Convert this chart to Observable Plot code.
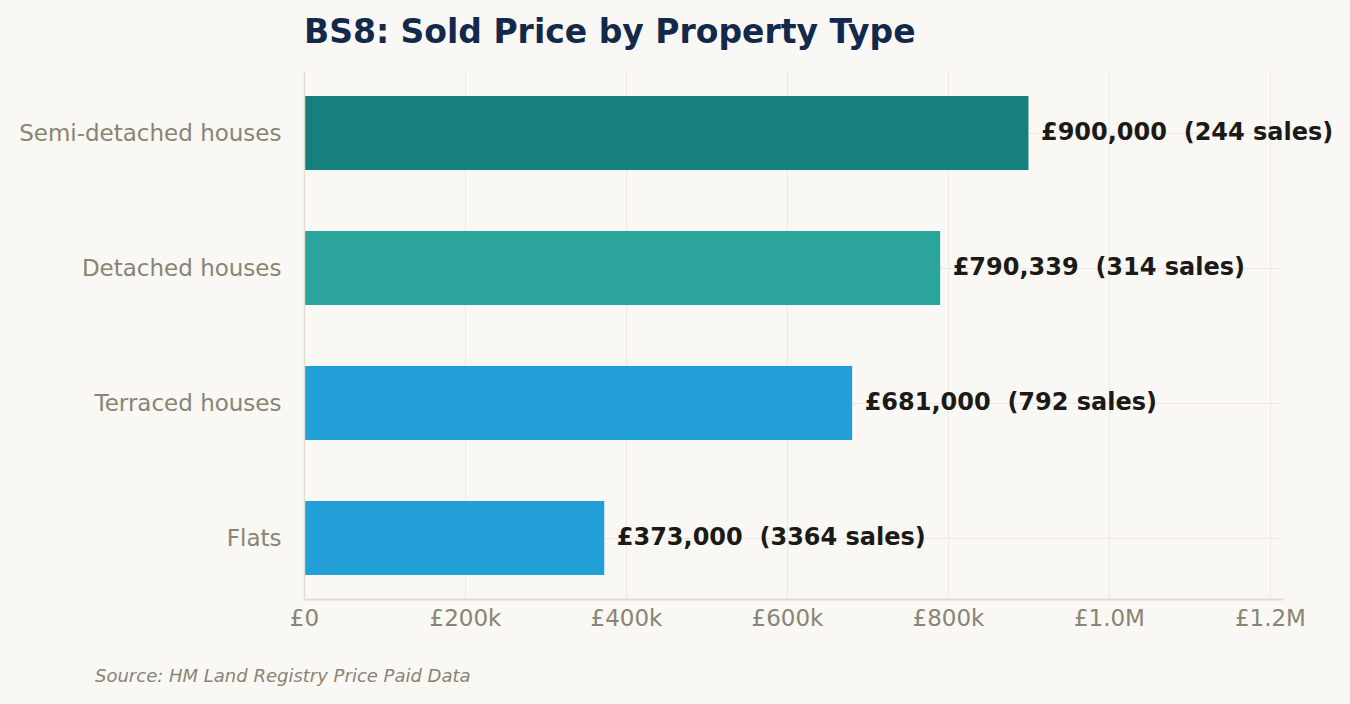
<!DOCTYPE html>
<html>
<head>
<meta charset="utf-8">
<script src="https://cdn.jsdelivr.net/npm/d3@7"></script>
<script src="https://cdn.jsdelivr.net/npm/@observablehq/plot@0.6"></script>
<style>
  html, body { margin: 0; padding: 0; background: #f9f8f4; }
  body { width: 1350px; height: 704px; position: relative; overflow: hidden; font-family: "DejaVu Sans", sans-serif; }
  #title { position: absolute; left: 304px; top: 13px; font-size: 33px; font-weight: bold; color: #13294b; line-height: 38px; white-space: nowrap; }
  #chart { position: absolute; left: 0; top: 60px; }
  #source { position: absolute; left: 95px; top: 665px; font-size: 18px; font-style: italic; color: #8a8472; line-height: 22px; white-space: nowrap; }
</style>
</head>
<body>
<div id="title">BS8: Sold Price by Property Type</div>
<div id="chart"></div>
<div id="source">Source: HM Land Registry Price Paid Data</div>
<script>
const categories = ["Semi-detached houses", "Detached houses", "Terraced houses", "Flats"];
const prices = [900000, 790339, 681000, 373000];
const sales = [244, 314, 792, 3364];
const barColors = ["#17807e", "#2ca59d", "#239fd8", "#239fd8"];
const xTicks = [0, 200000, 400000, 600000, 800000, 1000000, 1200000];
const xTickLabels = ["£0", "£200k", "£400k", "£600k", "£800k", "£1.0M", "£1.2M"];
const xMax = 1215000;

const data = categories.map((c, i) => ({cat: c, price: prices[i], sales: sales[i], color: barColors[i]}));
const fmt = d3.format(",");

const chart = Plot.plot({
  width: 1350,
  height: 580,
  marginTop: 12,
  marginBottom: 41,
  marginLeft: 304,
  marginRight: 68,
  style: {background: "transparent", fontFamily: "DejaVu Sans, sans-serif", fontSize: "23px", color: "#8a8472", overflow: "visible"},
  x: {domain: [0, xMax], ticks: xTicks, tickFormat: (d) => xTickLabels[xTicks.indexOf(d)], label: null},
  y: {domain: categories, paddingInner: 0.45, paddingOuter: 0.17, label: null},
  color: {type: "identity"},
  marks: [
    Plot.gridX(xTicks, {stroke: "#ece9e1", strokeOpacity: 1, strokeWidth: 1}),
    Plot.gridY(categories, {stroke: "#ece9e1", strokeOpacity: 1, strokeWidth: 1}),
    Plot.barX(data, {x: "price", y: "cat", fill: "color"}),
    Plot.ruleX([0], {stroke: "#e2ddd0", strokeWidth: 1.5}),
    Plot.frame({anchor: "bottom", stroke: "#e2ddd0", strokeWidth: 2}),
    Plot.axisX({ticks: xTicks, tickFormat: (d) => xTickLabels[xTicks.indexOf(d)], tickSize: 0, tickPadding: 10, fontSize: 23, fill: "#8a8472", label: null}),
    Plot.axisY({tickSize: 0, tickPadding: 23, fontSize: 23, fill: "#8a8472", label: null}),
    Plot.text(data, {x: "price", y: "cat", text: (d) => `£${fmt(d.price)}\u00a0\u00a0(${d.sales} sales)`, textAnchor: "start", dx: 12, dy: -1, fontWeight: "bold", fontSize: 24, fill: "#1c1a17"})
  ]
});
document.getElementById("chart").appendChild(chart);
</script>
</body>
</html>
